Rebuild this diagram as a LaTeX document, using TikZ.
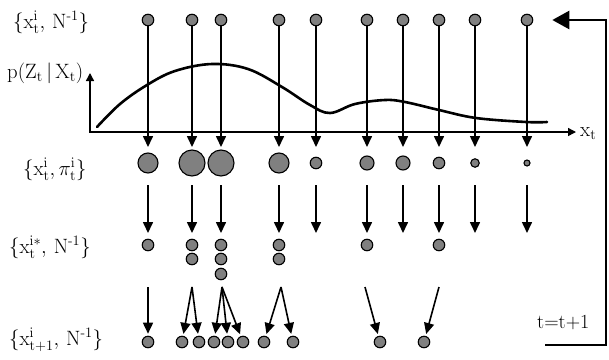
\documentclass[tikz,border=0pt]{standalone}
\usepackage{amsmath}
\usepackage{xcolor}
\definecolor{ptclgray}{HTML}{808080}
\usepackage{tikz}
\usetikzlibrary{arrows.meta, positioning, calc}
\tikzset{
  ptcl/.style ={circle, draw=black, line width=1.1pt, fill=ptclgray, inner sep=0pt, minimum size=11.5pt},
  wptcl/.style={ptcl, minimum size=#1},
  parr/.style ={-{Triangle[length=11pt, width=10pt]}, line width=1.6pt},
  axarr/.style={-{Triangle[length=8pt, width=8pt]}, line width=1.4pt},
  looparr/.style={-{Triangle[length=17pt, width=18pt]}, line width=2.6pt},
  lhood/.style={line width=2.6pt, line cap=round},
  lbl/.style ={anchor=base west, inner sep=0pt, font=\fontsize{20}{23}\selectfont},
}
\newcommand{\rmm}[1]{\mathrm{#1}}

\begin{document}
\begin{tikzpicture}[x=1pt, y=-1pt]
  \useasboundingbox (0,0) rectangle (609,359);
  % row labels
  \node[lbl] (lx) at (13,28) {$\{\rmm{x}^{\rmm{i}}_{\rmm{t}},\,\rmm{N}^{\text{-}1}\}$};
  \node[lbl] (lp) at (7,78) {$\rmm{p}(\rmm{Z}_{\rmm{t}}\,|\,\rmm{X}_{\rmm{t}})$};
  \node[lbl] (lw) at (23,175) {$\{\rmm{x}^{\rmm{i}}_{\rmm{t}},\pi^{\rmm{i}}_{\rmm{t}}\}$};
  \node[lbl] (lr) at (9,253) {$\{\rmm{x}^{\rmm{i}*}_{\rmm{t}},\,\rmm{N}^{\text{-}1}\}$};
  \node[lbl] (lb) at (9,345) {$\{\rmm{x}^{\rmm{i}}_{\rmm{t+1}},\,\rmm{N}^{\text{-}1}\}$};
  \node[lbl] (lxt) at (580,136) {$\rmm{x}_{\rmm{t}}$};
  \node[lbl] (lt) at (537,328) {t=t+1};

  % axes and likelihood
  \coordinate (org) at (90,132);
  \coordinate (ytip) at (90,73);
  \coordinate (xtip) at (576,132);
  \draw[axarr] ([yshift=0.7pt]org) -- (ytip);
  \draw[axarr] ([xshift=-0.7pt]org) -- (xtip);
  \draw[lhood] plot[smooth, tension=0.6] coordinates {(97,127) (120,104) (147,85) (175,71) (212,64) (248,69) (282,87) (310,105) (330,113) (355,104) (385,100) (405,102) (439,110) (476,118) (526,122) (547,122)};

  % particles at t
  \node[ptcl] (t1) at (148,20) {}; \node[ptcl] (t2) at (192,20) {}; \node[ptcl] (t3) at (221,20) {};
  \node[ptcl] (t4) at (279,20) {}; \node[ptcl] (t5) at (316,20) {}; \node[ptcl] (t6) at (367,20) {};
  \node[ptcl] (t7) at (403,20) {}; \node[ptcl] (t8) at (439,20) {}; \node[ptcl] (t9) at (475,20) {};
  \node[ptcl] (t10) at (527,20) {};

  % weighted particles
  \node[wptcl=20pt] (w1) at (148,163) {}; \node[wptcl=26pt] (w2) at (192,163) {}; \node[wptcl=26pt] (w3) at (221,163) {};
  \node[wptcl=20pt] (w4) at (279,163) {}; \node[wptcl=11.5pt] (w5) at (316,163) {}; \node[wptcl=14pt] (w6) at (367,163) {};
  \node[wptcl=14pt] (w7) at (403,163) {}; \node[wptcl=11.5pt] (w8) at (439,163) {}; \node[wptcl=8.5pt] (w9) at (475,163) {};
  \node[wptcl=6pt] (w10) at (527,163) {};

  % resampled particles
  \node[ptcl] (s1) at (148,245) {};
  \node[ptcl] (s2) at (192,245) {}; \node[ptcl] (s3) at (192,259) {};
  \node[ptcl] (s4) at (221,245) {}; \node[ptcl] (s5) at (221,259) {}; \node[ptcl] (s6) at (221,274) {};
  \node[ptcl] (s7) at (279,245) {}; \node[ptcl] (s8) at (279,259) {};
  \node[ptcl] (s9) at (367,245) {};
  \node[ptcl] (s10) at (439,245) {};

  % particles at t+1
  \node[ptcl] (b1) at (148,342) {}; \node[ptcl] (b2) at (182,342) {}; \node[ptcl] (b3) at (199,342) {};
  \node[ptcl] (b4) at (214,342) {}; \node[ptcl] (b5) at (228,342) {}; \node[ptcl] (b6) at (243,342) {};
  \node[ptcl] (b7) at (264,342) {}; \node[ptcl] (b8) at (293,342) {}; \node[ptcl] (b9) at (380,342) {};
  \node[ptcl] (b10) at (424,342) {};

  % weighting
  \coordinate (ta) at (0,147);
  \draw[parr] (t1) -- (t1 |- ta); \draw[parr] (t2) -- (t2 |- ta); \draw[parr] (t3) -- (t3 |- ta);
  \draw[parr] (t4) -- (t4 |- ta); \draw[parr] (t5) -- (t5 |- ta); \draw[parr] (t6) -- (t6 |- ta);
  \draw[parr] (t7) -- (t7 |- ta); \draw[parr] (t8) -- (t8 |- ta); \draw[parr] (t9) -- (t9 |- ta);
  \draw[parr] (t10) -- (t10 |- ta);

  % resampling
  \coordinate (wa) at (0,185); \coordinate (wb) at (0,233);
  \draw[parr] (w1 |- wa) -- (w1 |- wb); \draw[parr] (w2 |- wa) -- (w2 |- wb); \draw[parr] (w3 |- wa) -- (w3 |- wb);
  \draw[parr] (w4 |- wa) -- (w4 |- wb); \draw[parr] (w5 |- wa) -- (w5 |- wb); \draw[parr] (w6 |- wa) -- (w6 |- wb);
  \draw[parr] (w7 |- wa) -- (w7 |- wb); \draw[parr] (w8 |- wa) -- (w8 |- wb); \draw[parr] (w9 |- wa) -- (w9 |- wb);
  \draw[parr] (w10 |- wa) -- (w10 |- wb);

  % prediction
  \coordinate (ap) at (0,287);
  \draw[parr, shorten >=2pt] (s1 |- ap) -- (b1);
  \draw[parr, shorten >=2pt] (s2 |- ap) -- (b2); \draw[parr, shorten >=2pt] (s2 |- ap) -- (b3);
  \draw[parr, shorten >=2pt] ([xshift=1pt]s4 |- ap) -- (b4); \draw[parr, shorten >=2pt] ([xshift=1pt]s4 |- ap) -- (b5); \draw[parr, shorten >=2pt] ([xshift=1pt]s4 |- ap) -- (b6);
  \draw[parr, shorten >=2pt] ([xshift=2pt]s7 |- ap) -- (b7); \draw[parr, shorten >=2pt] ([xshift=2pt]s7 |- ap) -- (b8);
  \draw[parr, shorten >=2pt] ([xshift=-2pt]s9 |- ap) -- (b9);
  \draw[parr, shorten >=2pt] (s10 |- ap) -- (b10);

  % next time step
  \coordinate (lpa) at (545,345); \coordinate (lpb) at (606,345);
  \draw[looparr] (lpa) -- (lpb) |- ([xshift=19pt]t10.east);
\end{tikzpicture}
\end{document}
